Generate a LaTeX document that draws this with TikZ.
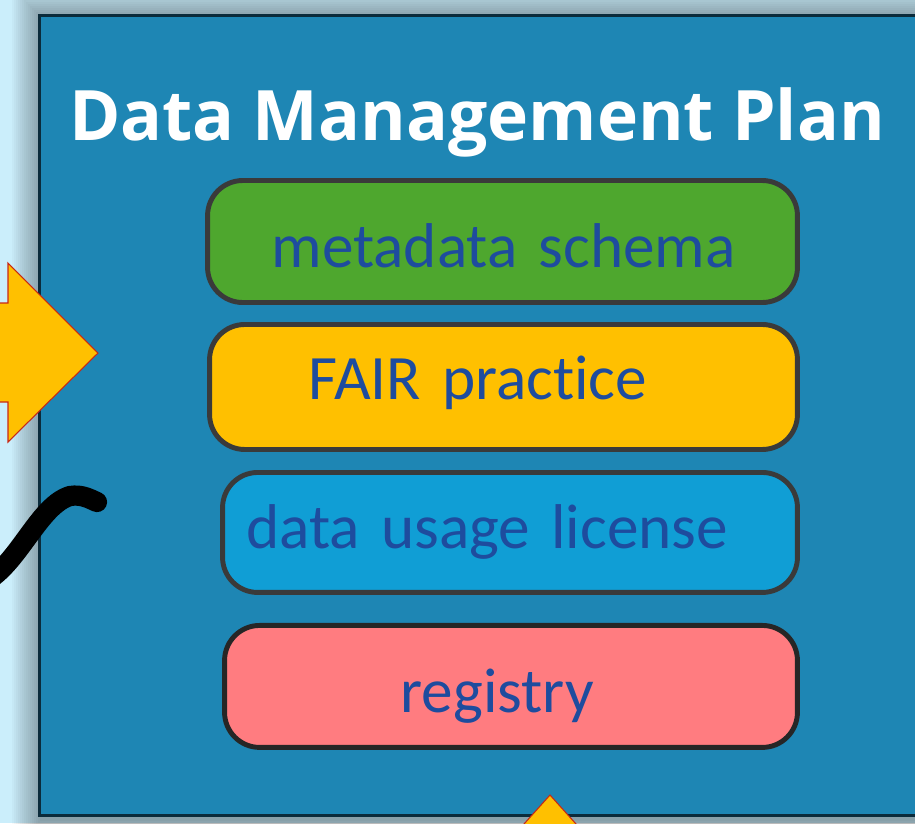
\documentclass[tikz,border=0pt]{standalone}
\usepackage{fontspec}
\newfontfamily\headfont{Open Sans}
\newfontfamily\entryfont[Ligatures=NoCommon]{Carlito}
\usetikzlibrary{positioning}
\definecolor{backdrop}{RGB}{203,238,251}
\definecolor{planfill}{RGB}{30,134,180}
\definecolor{planline}{RGB}{11,43,59}
\definecolor{boxline}{RGB}{58,58,58}
\definecolor{inktext}{RGB}{30,76,158}
\definecolor{schemagreen}{RGB}{78,167,46}
\definecolor{fairyellow}{RGB}{255,192,0}
\definecolor{licenseblue}{RGB}{16,158,213}
\definecolor{registrypink}{RGB}{255,124,128}
\definecolor{arrowedge}{RGB}{200,40,20}

\begin{document}
\begin{tikzpicture}[x=0.02cm, y=-0.02cm,
    entry/.style={draw=boxline, line width=2.8pt, rounded corners=20pt,
      inner sep=0pt, outer sep=0pt, align=left, text=inktext,
      font=\entryfont\fontsize{36}{40}\selectfont, text depth=0pt},
    heading/.style={text=white, inner sep=0pt, anchor=base,
      font=\headfont\bfseries\fontsize{39.6}{44}\selectfont},
    pointer/.style={fill=fairyellow, draw=arrowedge, line width=0.6pt},
    squiggle/.style={draw=black, line width=11.5pt, line cap=round}]
  \useasboundingbox (0,0) rectangle (915,823);
  \fill[backdrop] (0,0) rectangle (915,823);

  % soft shadow round the plan
  \foreach \s in {1,...,15}
    \fill[black, opacity=0.025] (42-2*\s,18-2*\s) rectangle (960,819+2*\s);
  \draw[fill=planfill, draw=planline, line width=1.7pt] (39.5,15) rectangle (940,815);

  \node[heading] (title) at (477,140) {Data Management Plan};

  \node[entry, fill=schemagreen, text width=11.8cm, minimum height=2.44cm,
        text height=1.02cm] (schema) at (502.5,241.5)
        {\hspace*{1.28cm}metadata schema};
  \node[entry, fill=fairyellow, text width=11.76cm, minimum height=2.5cm,
        text height=0.52cm, below=0.44cm of schema.south east, anchor=north east] (fair)
        {\hspace*{1.98cm}FAIR practice};
  \node[entry, fill=licenseblue, text width=11.5cm, minimum height=2.4cm,
        text height=0.66cm, below=0.46cm of fair.south east, anchor=north east] (license)
        {\hspace*{0.48cm}data usage license};
  \node[entry, fill=registrypink, draw=black!85, text width=11.46cm, minimum height=2.44cm,
        text height=1.06cm, below=0.66cm of license.south east, anchor=north east] (registry)
        {\hspace*{3.52cm}registry};

  % arrows and curve coming in from outside
  \draw[pointer] (-20,303) -- (8,303) -- (8,263) -- (98,353) -- (8,442)
    -- (8,402) -- (-20,402) -- cycle;
  \draw[pointer] (550,795) -- (515,834) -- (585,834) -- cycle;
  \draw[squiggle] (-12,580) .. controls (20,560) and (40,505) .. (70,496)
    .. controls (82,494) and (90,499) .. (97,502);
\end{tikzpicture}
\end{document}
